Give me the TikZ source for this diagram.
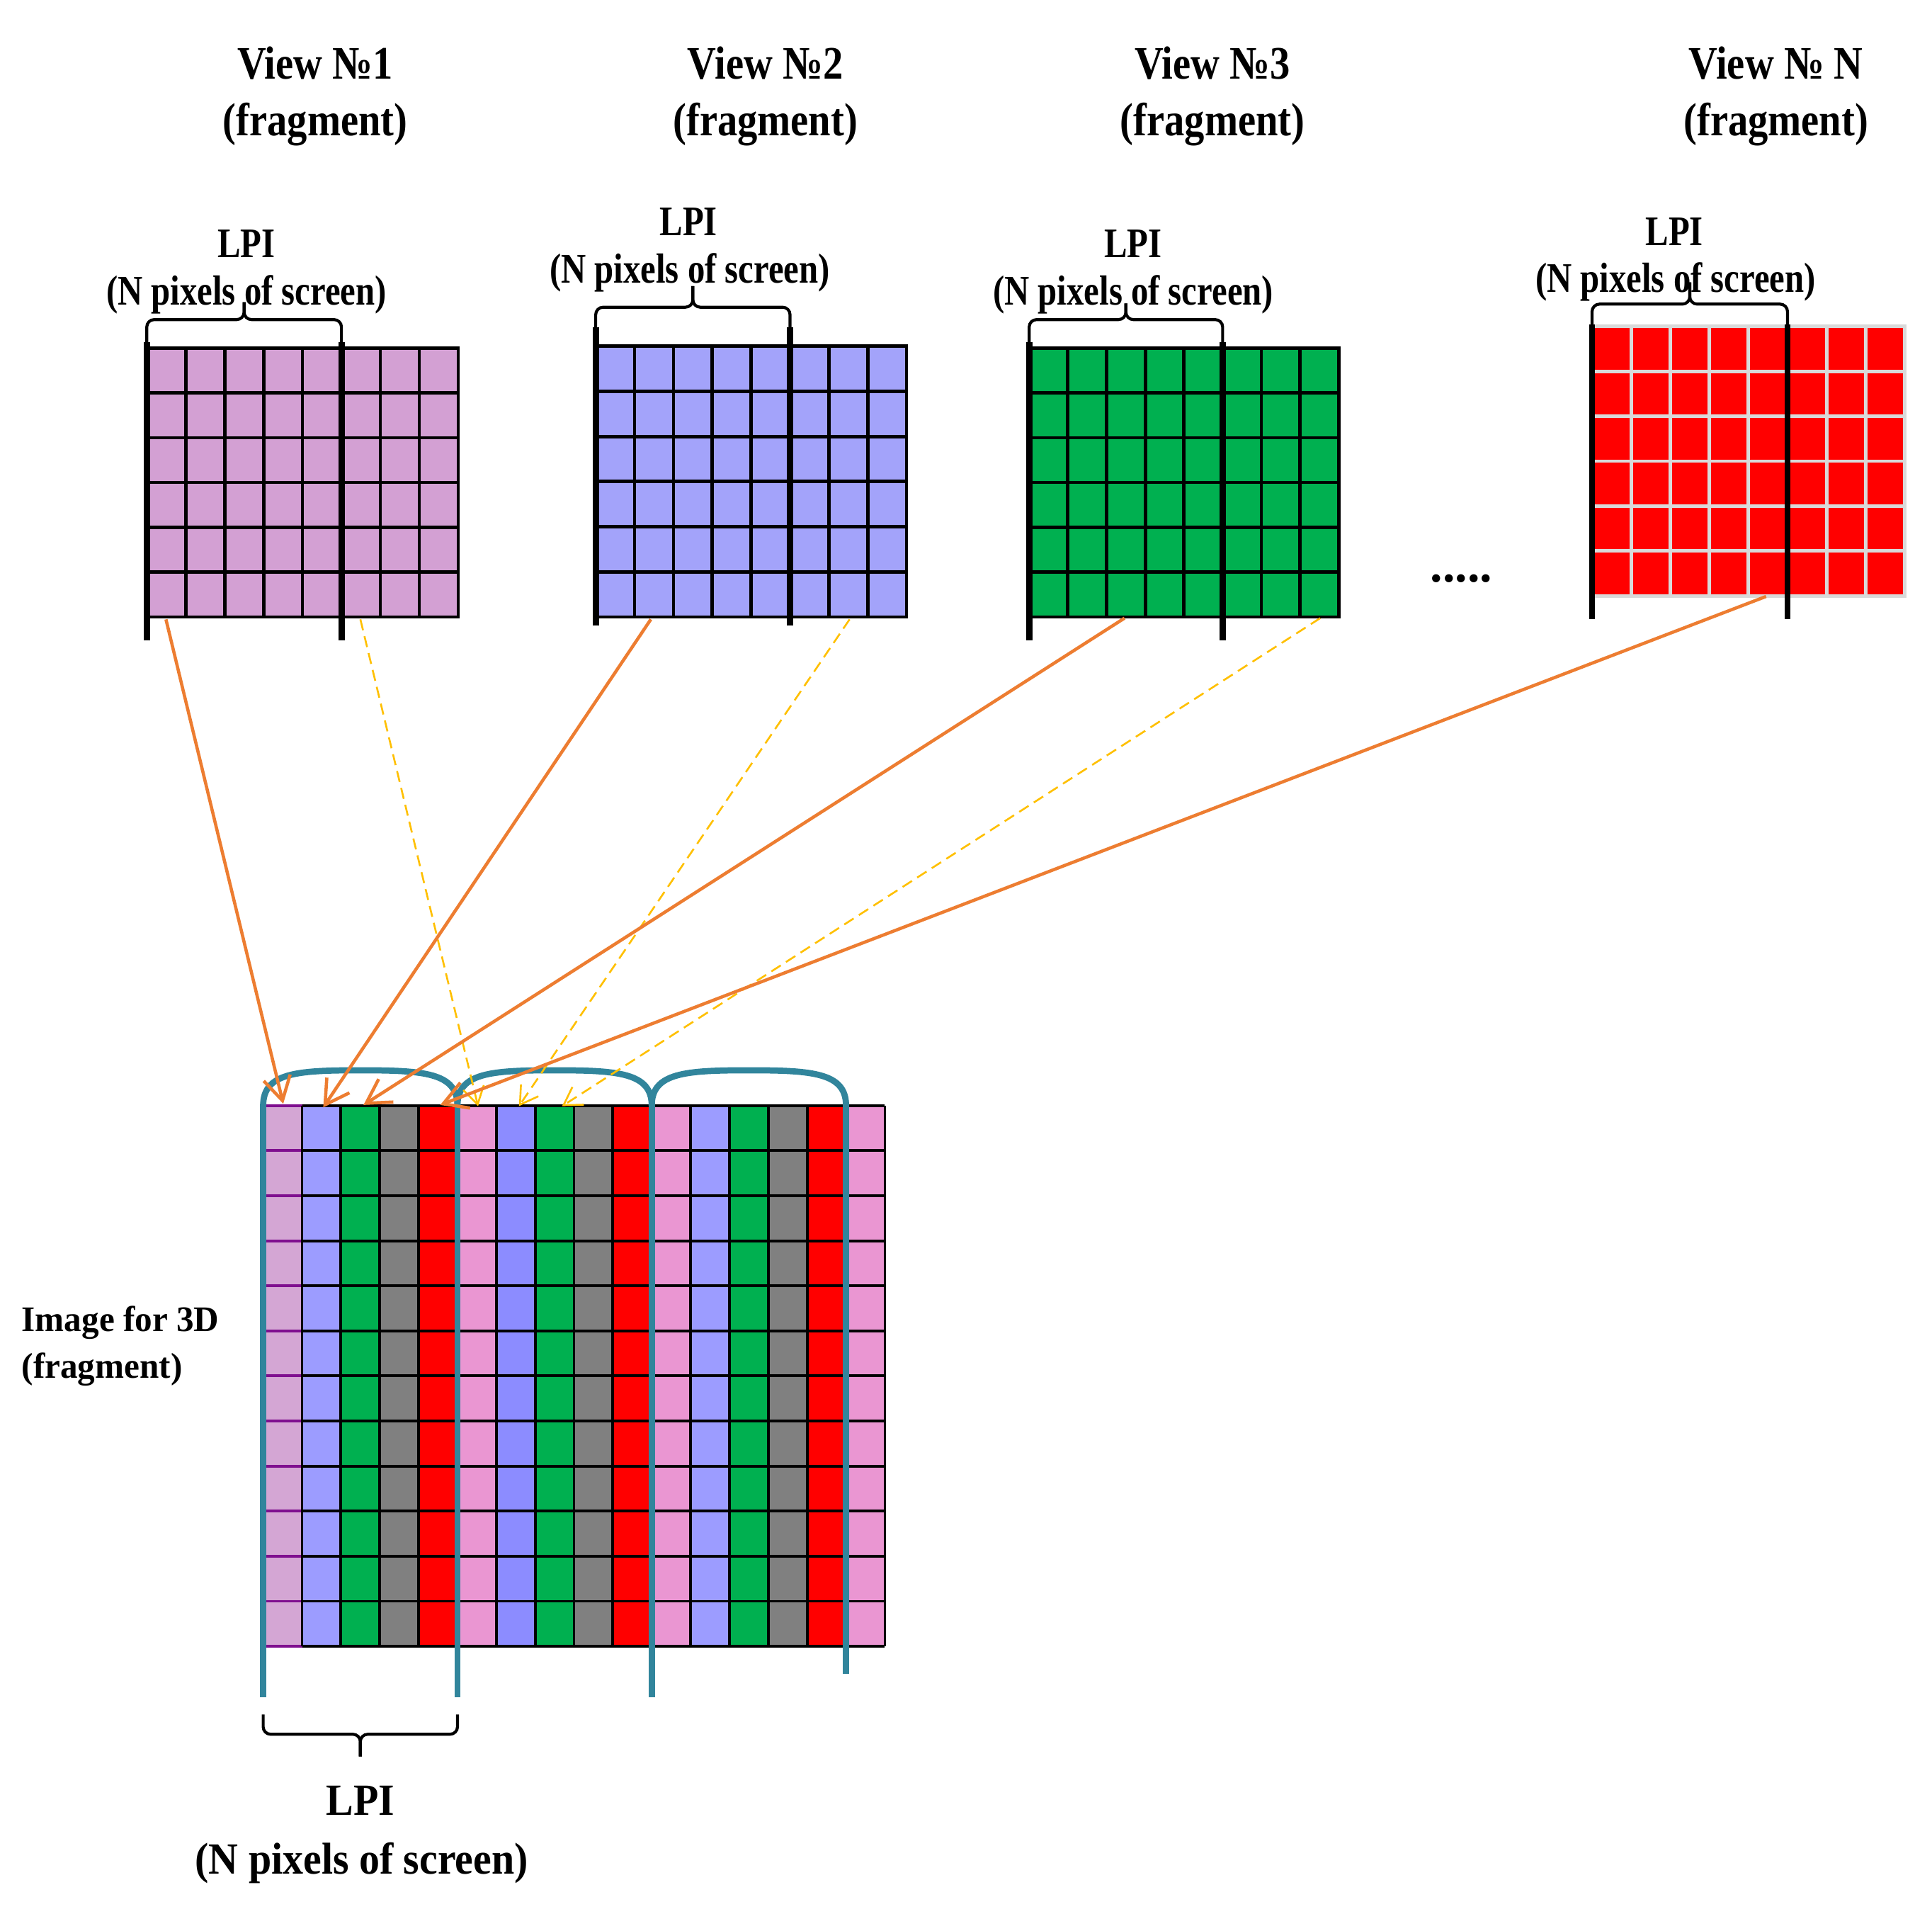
\documentclass[tikz,border=0pt]{standalone}
\usepackage{fontspec}
\setmainfont{Liberation Serif}
\newfontfamily\ttlfont{Liberation Serif}[FakeStretch=0.86]
\newfontfamily\lpifont{Liberation Serif}[FakeStretch=0.82]
\newfontfamily\botfont{Liberation Serif}[FakeStretch=0.92]
\newfontfamily\imgfont{Liberation Serif}[FakeStretch=0.97]
\usetikzlibrary{arrows.meta}
\definecolor{vpink}{HTML}{D3A0D3}
\definecolor{vblue}{HTML}{A3A3FA}
\definecolor{vgreen}{HTML}{00B050}
\definecolor{vred}{HTML}{FF0000}
\definecolor{cpinkA}{HTML}{D4A6D4}
\definecolor{cblueA}{HTML}{9C9CFF}
\definecolor{cblueB}{HTML}{8C8CFF}
\definecolor{cpinkB}{HTML}{EA96D2}
\definecolor{cgray}{HTML}{808080}
\definecolor{lensteal}{HTML}{31859C}
\definecolor{arrorange}{HTML}{ED7D31}
\definecolor{arryellow}{HTML}{FFC000}
\definecolor{cellpurple}{HTML}{7F0F8F}
\definecolor{lightgrid}{HTML}{D9D9D9}
\newcommand{\viewgrid}[6]{%
  \fill[#5] (#1,#2) rectangle (#3,#4);
  \pgfmathsetmacro\vgcw{(#3-#1)/8}%
  \pgfmathsetmacro\vgrh{(#4-#2)/6}%
  \foreach \i in {1,...,7}{\draw[gridline,draw=#6] ({#1+\i*\vgcw},#2) -- ({#1+\i*\vgcw},#4);}
  \foreach \j in {1,...,5}{\draw[gridline,draw=#6] (#1,{#2+\j*\vgrh}) -- (#3,{#2+\j*\vgrh});}
  \draw[gridline,draw=#6] (#1,#2) rectangle (#3,#4);
}
\newcommand{\lpibrace}[5]{%
  \pgfmathsetmacro\bmid{(#1+#2)/2}%
  \draw[bracestyle] (#1,#3) |- (\bmid,#4) -- (\bmid,#5);
  \draw[bracestyle] (#2,#3) |- (\bmid,#4) -- (\bmid,#5);
}
\begin{document}
\begin{tikzpicture}[x=1pt,y=-1pt,
  gridline/.style={line width=2.7pt},
  thickline/.style={line width=5pt,black},
  bracestyle/.style={line width=2.4pt,rounded corners=6pt,black},
  ttl/.style={font=\ttlfont\bfseries\fontsize{37.6}{45}\selectfont,inner sep=0pt,anchor=base},
  lpi/.style={font=\lpifont\bfseries\fontsize{34}{40}\selectfont,inner sep=0pt,anchor=base},
  bot/.style={font=\botfont\bfseries\fontsize{36}{44}\selectfont,inner sep=0pt,anchor=base},
  img/.style={font=\imgfont\bfseries\fontsize{29}{36}\selectfont,inner sep=0pt,anchor=base west},
  lensline/.style={line width=5pt,draw=lensteal},
  orangearr/.style={draw=arrorange,line width=2.6pt,-{Straight Barb[length=19pt,width=22pt]}},
  yellowarr/.style={draw=arryellow,line width=1.5pt,dash pattern=on 9pt off 5pt,-{Straight Barb[length=14pt,width=17pt]}}]
\fill[white] (0,0) rectangle (1560,1544.6);
\useasboundingbox (0,0) rectangle (1560,1544.6);

% titles
\node[ttl] (t1a) at (254.5,63.6) {View №1};
\node[ttl] (t1b) at (254.5,109.5) {(fragment)};
\node[ttl] (t2a) at (618,63.6) {View №2};
\node[ttl] (t2b) at (618,109.5) {(fragment)};
\node[ttl] (t3a) at (979,63.6) {View №3};
\node[ttl] (t3b) at (979,109.5) {(fragment)};
\node[ttl] (tNa) at (1434,63.6) {View № N};
\node[ttl] (tNb) at (1434,109.5) {(fragment)};

% LPI labels
\node[lpi] (l1a) at (199,207.8) {LPI};
\node[lpi] (l1b) at (199,246) {(N pixels of screen)};
\node[lpi] (l2a) at (556,190.4) {LPI};
\node[lpi] (l2b) at (557,228.7) {(N pixels of screen)};
\node[lpi] (l3a) at (915,207.8) {LPI};
\node[lpi] (l3b) at (915,246) {(N pixels of screen)};
\node[lpi] (lNa) at (1352,198) {LPI};
\node[lpi] (lNb) at (1353,236) {(N pixels of screen)};

% view grids
\viewgrid{118.5}{281}{370}{498}{vpink}{black}
\viewgrid{481}{279.5}{732}{498}{vblue}{black}
\viewgrid{831}{281}{1081}{498}{vgreen}{black}
\viewgrid{1285.5}{263.5}{1538}{481}{vred}{lightgrid}

% thick LPI lines
\draw[thickline] (118.5,276) -- (118.5,517);
\draw[thickline] (275.7,276) -- (275.7,517);
\draw[thickline] (481,264) -- (481,505);
\draw[thickline] (637.9,264) -- (637.9,505);
\draw[thickline] (831,276) -- (831,517);
\draw[thickline] (987.2,276) -- (987.2,517);
\draw[thickline] (1285.5,262) -- (1285.5,500);
\draw[thickline] (1443.3,262) -- (1443.3,500);

% braces
\lpibrace{118.5}{275.7}{277}{258}{244}
\lpibrace{481}{637.9}{265}{248}{231}
\lpibrace{831}{987.2}{277}{258}{245}
\lpibrace{1285.5}{1443.3}{262}{245.5}{228}

\node[font=\bfseries\fontsize{40}{44}\selectfont,inner sep=0pt,anchor=base] (dots) at (1180,470) {.....};

% interlaced image
\foreach \c [count=\i from 0] in {cpinkA,cblueA,vgreen,cgray,vred,cpinkB,cblueB,vgreen,cgray,vred,cpinkB,cblueA,vgreen,cgray,vred,cpinkB}{
  \fill[\c] ({212.5+\i*31.375},892.5) rectangle ({212.5+(\i+1)*31.375},1329);
}
\foreach \j in {0,...,12}{
  \draw[line width=2.2pt,cellpurple] (212.5,{892.5+\j*36.375}) -- (243.9,{892.5+\j*36.375});
  \draw[line width=2.2pt,black] (243.9,{892.5+\j*36.375}) -- (714.5,{892.5+\j*36.375});
}
\foreach \i in {1,...,16}{
  \draw[line width=2.2pt,black] ({212.5+\i*31.375},892.5) -- ({212.5+\i*31.375},1329);
}

% lenses
\foreach \k in {0,1,2}{
  \pgfmathsetmacro\xa{212.5+5*\k*31.375}
  \pgfmathsetmacro\xb{\xa+5*31.375}
  \pgfmathsetmacro\xm{(\xa+\xb)/2}
  \draw[lensline] (\xa,892.5) .. controls (\xa,866) and ({\xa+27},864) .. (\xm,864) .. controls ({\xb-27},864) and (\xb,866) .. (\xb,892.5);
}
\draw[lensline] (212.5,891) -- (212.5,1370);
\draw[lensline] (369.4,891) -- (369.4,1370);
\draw[lensline] (526.25,891) -- (526.25,1370);
\draw[lensline] (683.1,891) -- (683.1,1351);

% bottom brace and label
\lpibrace{212.5}{369.4}{1384}{1400}{1418}
\node[bot] (lba) at (291,1465.5) {LPI};
\node[bot] (lbb) at (292,1512.7) {(N pixels of screen)};

\node[img] (ima) at (17.4,1075) {Image for 3D};
\node[img] (imb) at (17.4,1112.5) {(fragment)};

% arrow endpoints
\coordinate (s1) at (134,500);
\coordinate (e1) at (228.7,891);
\coordinate (s2) at (525.5,500);
\coordinate (e2) at (261,894);
\coordinate (s3) at (908,499);
\coordinate (e3) at (293.5,892);
\coordinate (s4) at (1426,481.5);
\coordinate (e4) at (355.5,892);
\coordinate (d5s) at (291,500);
\coordinate (d5e) at (386,893);
\coordinate (d6s) at (686,500);
\coordinate (d6e) at (419,893);
\coordinate (d7s) at (1066,499);
\coordinate (d7e) at (453.8,893);

\draw[yellowarr] (d5s) -- (d5e);
\draw[yellowarr] (d6s) -- (d6e);
\draw[yellowarr] (d7s) -- (d7e);
\draw[orangearr] (s1) -- (e1);
\draw[orangearr] (s2) -- (e2);
\draw[orangearr] (s3) -- (e3);
\draw[orangearr] (s4) -- (e4);
\end{tikzpicture}
\end{document}
